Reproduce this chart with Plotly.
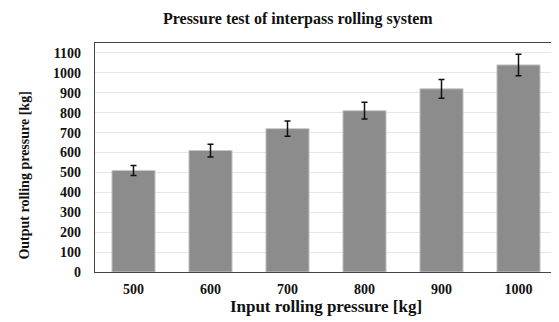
import plotly.graph_objects as go

categories = ["500", "600", "700", "800", "900", "1000"]
values = [510, 610, 720, 810, 920, 1040]
errors = [25, 32, 38, 42, 47, 54]
y_ticks = list(range(0, 1101, 100))

font_family = "Liberation Serif, Times New Roman, serif"

fig = go.Figure(go.Bar(
    x=categories, y=values,
    marker=dict(color="#8c8c8c", line=dict(color="#c8c8c8", width=1)),
    error_y=dict(type="data", array=errors, visible=True, color="#111111", thickness=1.5, width=3),
))

# page body has an 8px default margin at top/left, so the figure is sized/offset to compensate
fig.update_layout(
    width=551, height=314,
    margin=dict(l=87, r=2, t=35, b=50),
    paper_bgcolor="white", plot_bgcolor="white",
    bargap=0.44,
    showlegend=False,
    font=dict(family=font_family, color="#111111"),
    title=dict(text="<b>Pressure test of interpass rolling system</b>", x=0.526, xanchor="center",
               y=0.968, yanchor="middle", font=dict(size=16, family=font_family, color="#111111")),
    annotations=[dict(
        text="<b>Output rolling pressure [kg]</b>", textangle=-90,
        xref="paper", yref="paper", x=-0.152, y=0.42, xanchor="center", yanchor="middle",
        showarrow=False, font=dict(size=14, family=font_family, color="#111111"),
    )],
)
fig.update_xaxes(
    type="category", automargin=False,
    showline=True, linecolor="#444444", linewidth=1.2, mirror=True,
    ticks="outside", ticklen=4, tickcolor="rgba(0,0,0,0)",
    tickfont=dict(size=14, family=font_family, color="#111111", weight="bold"),
    title=dict(text="<b>Input rolling pressure [kg]</b>", font=dict(size=17, family=font_family), standoff=0),
)
fig.update_yaxes(
    range=[0, 1150], tickvals=y_ticks, automargin=False,
    showgrid=True, gridcolor="#e6e6e6", gridwidth=1,
    showline=True, linecolor="#444444", linewidth=1.2, mirror=True,
    ticks="outside", ticklen=10, tickcolor="rgba(0,0,0,0)",
    tickfont=dict(size=14, family=font_family, color="#111111", weight="bold"),
    zeroline=False,
)

fig.write_html("out.html")
